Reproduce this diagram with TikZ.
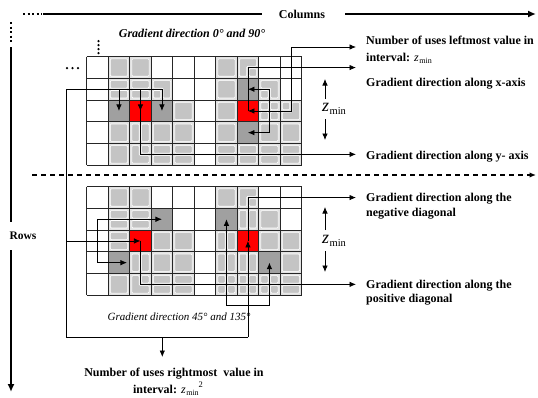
\documentclass[tikz,border=0pt]{standalone}
\usepackage{fontspec}
\setmainfont{Liberation Serif}
\usetikzlibrary{arrows.meta}
\definecolor{cellbg}{HTML}{E2E2E2}
\definecolor{cellsq}{HTML}{C4C4C4}
\definecolor{celldk}{HTML}{A0A0A0}
\newcommand\cellW{21.5}
\newcommand\cellHt{21.7}
% z_min in running text
\newcommand\zsub{{\mdseries\itshape z}\kern0.6pt\raisebox{-2.5pt}{\mdseries\fontsize{8}{8}\selectfont min}}
% one cell of a grid, in local coordinates around the cell centre
\newcommand\cellbgfill{\fill[cellbg] (-10.75,-10.85) rectangle (10.75,10.85);}
\newcommand\cellFull[2]{\begin{scope}[at cell={#1}{#2}]\cellbgfill
  \path[sq] (-8.6,-8.7) rectangle (8.6,8.7);\end{scope}}
\newcommand\cellHor[2]{\begin{scope}[at cell={#1}{#2}]\cellbgfill
  \path[sq] (-8.6,-8.7) rectangle (8.6,-1.2);
  \path[sq] (-8.6,1.2) rectangle (8.6,8.7);\end{scope}}
\newcommand\cellVer[2]{\begin{scope}[at cell={#1}{#2}]\cellbgfill
  \path[sq] (-8.6,-8.7) rectangle (-1.2,8.7);
  \path[sq] (1.2,-8.7) rectangle (8.6,8.7);\end{scope}}
\newcommand\cellQuad[2]{\begin{scope}[at cell={#1}{#2}]\cellbgfill
  \path[sq] (-8.6,-8.7) rectangle (-1.2,-1.2);
  \path[sq] (1.2,-8.7) rectangle (8.6,-1.2);
  \path[sq] (-8.6,1.2) rectangle (-1.2,8.7);
  \path[sq] (1.2,1.2) rectangle (8.6,8.7);\end{scope}}
\newcommand\cellEll[4]{\begin{scope}[at cell={#1}{#2},xscale=#3,yscale=#4]\cellbgfill
  \path[sq] (-8.6,-8.7) -- (8.6,-8.7) -- (8.6,-1.2) -- (-1.2,-1.2) -- (-1.2,8.7) -- (-8.6,8.7) -- cycle;
  \path[sq] (1.2,1.2) rectangle (8.6,8.7);\end{scope}}
\newcommand\cellDark[2]{\begin{scope}[at cell={#1}{#2}]\fill[celldk] (-10.75,-10.85) rectangle (10.75,10.85);\end{scope}}
\newcommand\cellRed[2]{\begin{scope}[at cell={#1}{#2}]\fill[red] (-10.75,-10.85) rectangle (10.75,10.85);\end{scope}}
\newcommand\gridlines{%
  \foreach \i in {0,...,10}{\draw[gl] (\gridX+\i*\cellW,\gridY) -- ++(0,5*\cellHt);}
  \foreach \j in {0,...,5}{\draw[gl] (\gridX,\gridY+\j*\cellHt) -- ++(10*\cellW,0);}}

\begin{document}
\begin{tikzpicture}[x=1pt,y=-1pt,
  at cell/.style 2 args={shift={(\gridX+#1*\cellW+0.5*\cellW,\gridY+#2*\cellHt+0.5*\cellHt)}},
  sq/.style={fill=cellsq,draw=white,line width=0.6pt,rounded corners=1pt},
  gl/.style={black!85,line width=0.7pt},
  conn/.style={line width=0.75pt,black},
  arr/.style={-{Latex[length=6.5pt,width=5.5pt]}},
  arrboth/.style={{Latex[length=6.5pt,width=5.5pt]}-{Latex[length=6.5pt,width=5.5pt]}},
  axis/.style={line width=2.5pt,black},
  lbl/.style={font=\bfseries\fontsize{12}{14}\selectfont,inner sep=0pt,anchor=base west},
  zlab/.style={inner sep=0pt},
  dot/.style={fill=black,circle,inner sep=0pt,minimum size=2.5pt}]
\useasboundingbox (0,0) rectangle (538,397);

% ---------- upper grid: gradient directions 0 and 90 degrees ----------
\def\gridX{86.7}\def\gridY{56.7}
\foreach \i/\j in {1/0,2/0,6/0,6/1,4/2,6/2,1/3,3/3,4/3,6/3,8/3,9/3,1/4}{\cellFull{\i}{\j}}
\foreach \i/\j in {1/1,2/1,3/4,4/4,6/4,7/4,8/4,9/4}{\cellHor{\i}{\j}}
\foreach \i/\j in {2/3}{\cellVer{\i}{\j}}
\foreach \i/\j in {8/2}{\cellQuad{\i}{\j}}
\foreach \i/\j/\sx/\sy in {7/0/1/1,3/1/-1/1,8/1/-1/1,9/2/-1/-1,2/4/1/-1}{\cellEll{\i}{\j}{\sx}{\sy}}
\foreach \i/\j in {1/2,3/2,7/1,7/3}{\cellDark{\i}{\j}}
\foreach \i/\j in {2/2,7/2}{\cellRed{\i}{\j}}
\gridlines
\foreach \i in {0,...,9}{\foreach \j in {0,...,4}{
  \coordinate (T-\i-\j) at (\gridX+\i*\cellW+0.5*\cellW,\gridY+\j*\cellHt+0.5*\cellHt);}}

% ---------- lower grid: gradient directions 45 and 135 degrees ----------
\def\gridY{186.7}
\foreach \i/\j in {1/0,2/0,6/0,8/1,3/2,4/2,8/2,9/2,3/3,4/3,9/3,1/4}{\cellFull{\i}{\j}}
\foreach \i/\j in {1/1,2/1,1/2,3/4,4/4,9/4}{\cellHor{\i}{\j}}
\foreach \i/\j in {7/1,6/2,2/3,6/3,7/3}{\cellVer{\i}{\j}}
\foreach \i/\j in {6/4,7/4,8/4}{\cellQuad{\i}{\j}}
\foreach \i/\j/\sx/\sy in {7/0/1/1,2/4/1/-1}{\cellEll{\i}{\j}{\sx}{\sy}}
\foreach \i/\j in {3/1,6/1,1/3,8/3}{\cellDark{\i}{\j}}
\foreach \i/\j in {2/2,7/2}{\cellRed{\i}{\j}}
\gridlines
\foreach \i in {0,...,9}{\foreach \j in {0,...,4}{
  \coordinate (B-\i-\j) at (\gridX+\i*\cellW+0.5*\cellW,\gridY+\j*\cellHt+0.5*\cellHt);}}

% ---------- axes ----------
\draw[axis,dash pattern=on 2.3pt off 2.2pt] (23,14) -- (42,14);
\draw[axis] (43,14) -- (262,14);
\node[font=\bfseries\fontsize{12}{14}\selectfont,inner sep=0pt] (cols) at (302,14) {Columns};
\coordinate (colsEnd) at (536,14);
\draw[axis,-{Latex[length=8pt,width=7pt]}] (345,14) -- (colsEnd);

\draw[axis,dash pattern=on 2.3pt off 2.2pt] (11,22) -- (11,42);
\draw[axis] (11,47) -- (11,222);
\node[font=\bfseries\fontsize{11.5}{14}\selectfont,inner sep=0pt] (rows) at (23,236) {Rows};
\coordinate (rowsEnd) at (11,392);
\draw[axis,-{Latex[length=8pt,width=7pt]}] (11,250) -- (rowsEnd);

% separator between the two grids
\coordinate (sepEnd) at (536,175);
\draw[line width=1.4pt,dash pattern=on 5pt off 4pt,-{Latex[length=6.5pt,width=5.5pt]}] (32,175) -- (sepEnd);

% continuation dots
\foreach \k in {0,...,3}{\node[dot] (vd\k) at (98.5,41+4*\k) {};}
\foreach \k in {0,...,2}{\node[dot] (hd\k) at (67+5.5*\k,68) {};}

% ---------- titles ----------
\node[font=\bfseries\itshape\fontsize{12}{14}\selectfont,inner sep=0pt] (title1) at (192,33) {Gradient direction 0° and 90°};
\node[font=\itshape\fontsize{11}{13}\selectfont,inner sep=0pt] (title2) at (179,317) {Gradient direction 45° and 135°};

% ---------- right-hand labels ----------
\node[lbl] (lm1) at (366,44) {Number of uses leftmost value in};
\node[lbl] (lm2) at (366,61) {interval: \zsub};
\node[lbl] (xa) at (366,86) {Gradient direction along x-axis};
\node[lbl] (ya) at (366,159) {Gradient direction along y- axis};
\node[lbl] (nd1) at (366,201) {Gradient direction along the};
\node[lbl] (nd2) at (366,216) {negative diagonal};
\node[lbl] (pd1) at (366,288) {Gradient direction along the};
\node[lbl] (pd2) at (366,302) {positive diagonal};
\node[font=\bfseries\fontsize{12}{14}\selectfont,inner sep=0pt,anchor=base] (rm1) at (174,376) {Number of uses rightmost\ \ value in};
\node[font=\bfseries\fontsize{12}{14}\selectfont,inner sep=0pt,anchor=base] (rm2) at (168,393) {interval: \zsub\raisebox{5.5pt}{\mdseries\fontsize{8.5}{9}\selectfont 2}};

% arrow end points in front of the labels
\coordinate (lmArr) at (356,47);
\coordinate (xaArr) at (356,67.55);
\coordinate (yaArr) at (356,154.35);
\coordinate (ndArr) at (356,197.55);
\coordinate (pdArr) at (356,284.35);

% ---------- z_min spans ----------
\node[zlab] (zt) at (334,109) {\fontsize{18}{18}\selectfont\itshape z\kern0.5pt\raisebox{-3pt}{\upshape\fontsize{10.5}{11}\selectfont min}};
\node[zlab] (zb) at (334,241) {\fontsize{18}{18}\selectfont\itshape z\kern0.5pt\raisebox{-3pt}{\upshape\fontsize{10.5}{11}\selectfont min}};
\coordinate (zt1) at (325,99);  \coordinate (zt2) at (325,79);
\coordinate (zt3) at (325,119); \coordinate (zt4) at (325,140);
\coordinate (zb1) at (325,230); \coordinate (zb2) at (325,207);
\coordinate (zb3) at (325,251); \coordinate (zb4) at (325,272);
\draw[conn,arr] (zt1) -- (zt2);
\draw[conn,arr] (zt3) -- (zt4);
\draw[conn,arr] (zb1) -- (zb2);
\draw[conn,arr] (zb3) -- (zb4);

% ---------- connectors, upper grid ----------
\coordinate (brkT) at (66,89.25);
\draw[conn,arr] (brkT) -| (T-3-2);
\draw[conn,arr] (T-1-1) -- (T-1-2);
\draw[conn,arr] (T-2-1) -- (T-2-2);
\draw[conn,arr] (T-2-1) |- (yaArr);
\draw[conn,arrboth] (T-7-2) -- (T-9-2) |- (lmArr);
\draw[conn,arr] (T-7-2) |- (xaArr);
\draw[conn,arrboth] (T-7-1) -- (T-8-1) -- (T-8-3) -- (T-7-3);

% ---------- connectors, lower grid ----------
\coordinate (brkBL) at (66,337);
\coordinate (brkBR) at (247.95,337);
\coordinate (brkM) at (162.3,337);
\coordinate (rmArr) at (162.3,357);
\coordinate (lowRow) at (0,305);
\draw[conn] (brkT) -- (brkBL) -- (brkBR);
\draw[conn,arr] (brkM) -- (rmArr);
\draw[conn,arr] (brkBR) -- (B-7-2);
\draw[conn,arr] (B-7-2) |- (ndArr);
\draw[conn,arrboth] (B-6-1) -- (B-6-1 |- lowRow) -| (B-8-3);
\draw[conn,arr] (brkT |- B-2-2) -- (B-2-2);
\draw[conn,arrboth] (B-3-1) -- (B-0-1) -- (B-0-3) -- ([xshift=8pt]B-1-3);
\draw[conn,arr] (B-2-2) |- (pdArr);
\end{tikzpicture}
\end{document}
